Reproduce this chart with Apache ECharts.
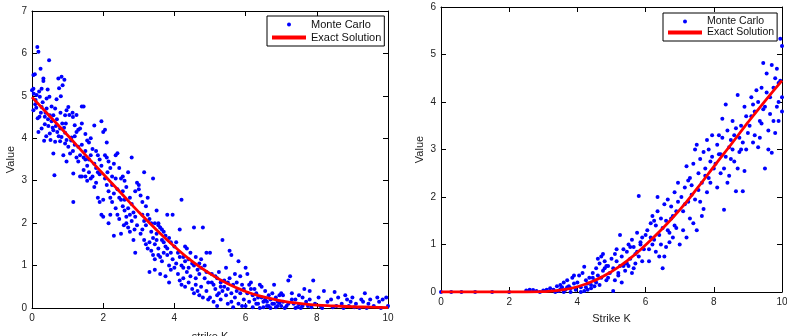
<!DOCTYPE html>
<html>
<head>
<meta charset="utf-8">
<script src="https://cdn.jsdelivr.net/npm/echarts@6/dist/echarts.min.js"></script>
<style>
  html, body { margin: 0; padding: 0; background: #fff; }
  #main { width: 787px; height: 336px; }
</style>
</head>
<body>
<div id="main"></div>
<script>
// strike grid for the exact solutions
const strikes = [0, 0.5, 1, 1.5, 2, 2.5, 3, 3.5, 4, 4.5, 5, 5.5, 6, 6.5, 7, 7.5, 8, 8.5, 9, 9.5, 10]
const exactPut = [4.97, 4.52, 4.07, 3.61, 3.16, 2.71, 2.26, 1.84, 1.45, 1.1, 0.81, 0.57, 0.39, 0.26, 0.17, 0.11, 0.07, 0.05, 0.03, 0.02, 0.01]
const exactCall = [0, 0, 0, 0, 0, 0, 0.01, 0.04, 0.11, 0.24, 0.43, 0.68, 0.99, 1.34, 1.73, 2.17, 2.64, 3.1, 3.57, 4.02, 4.45]

// monte carlo samples, left panel (strike K, value)
const mcPut = [
  [0.15,6.15],[0.18,6.04],[0.24,5.64],[0.48,5.84],[0.08,5.51],[0.04,5.49],[0.32,5.41],[0.32,5.35],[0.74,5.41],[0.83,5.45],
  [0.91,5.38],[0.86,5.25],[0.76,5.18],[0.44,5.15],[0.27,5.17],[0.04,5.17],[0.0,5.13],[0.13,5.02],[0.22,4.98],[0.41,4.94],
  [0.49,4.98],[0.81,4.99],[0.69,4.92],[0.04,4.66],[0.09,4.8],[0.27,4.74],[0.41,4.7],[0.21,4.51],[0.16,4.47],[0.36,4.51],
  [0.5,4.54],[0.65,4.7],[0.6,4.54],[0.93,4.54],[0.97,4.66],[0.18,4.15],[0.27,4.23],[0.36,4.33],[0.46,4.29],[0.5,4.11],
  [0.6,4.19],[0.67,4.29],[0.71,4.15],[0.79,4.23],[0.83,4.03],[0.93,4.13],[0.97,3.96],[0.65,3.92],[0.79,3.93],[0.34,3.94],
  [0.52,3.96],[0.6,3.64],[0.63,3.13],[0.88,3.6],[0.93,3.88],[0.1,4.9],[0.05,5.05],[0.2,5.1],[0.3,4.85],[0.38,4.6],
  [0.55,4.4],[0.7,4.45],[0.85,4.35],[0.58,4.25],[0.75,4.05],[0.9,4.25],[0.12,4.72],[0.25,4.6],[0.45,4.45],[0.55,4.75],
  [0.8,4.6],[0.95,4.35],[0.4,4.05],
  [1.02,3.8],[1.07,3.64],[0.97,3.45],[1.16,3.17],[1.16,2.5],[1.11,4.02],[1.25,4.15],[1.2,4.31],[1.35,4.23],[1.02,4.74],
  [1.14,4.6],[1.05,4.55],[1.15,4.5],[1.25,4.55],[1.4,4.75],[1.45,4.75],[1.3,4.2],[1.4,4.35],[1.5,4.1],[1.55,3.95],
  [1.6,3.9],[1.2,3.85],[1.3,3.8],[1.35,3.6],[1.45,3.55],[1.5,3.7],[1.6,3.5],[1.7,3.75],[1.75,4.3],[1.65,4.0],
  [1.8,3.7],[1.85,3.6],[1.9,3.5],[1.95,4.4],[2.0,4.15],[2.05,4.2],[2.1,3.9],[1.75,3.4],[1.8,3.3],[1.85,3.2],
  [1.9,3.15],[1.7,3.1],[1.65,3.05],[1.55,3.0],[1.5,3.1],[1.4,3.1],[1.35,3.1],[1.75,2.85],[1.8,2.95],[1.85,2.6],
  [1.9,2.5],[1.95,2.2],[2.0,2.55],[1.1,3.95],[1.25,3.55],[1.4,3.85],[1.55,3.35],[1.6,3.2],[1.3,3.45],[1.15,3.7],
  [1.45,3.25],[1.65,3.6],[1.95,3.35],[1.2,4.05],[1.5,3.5],
  [2.05,3.6],[2.1,3.55],[2.15,3.45],[2.2,3.3],[2.25,3.1],[2.3,3.4],[2.35,3.6],[2.4,3.65],[2.45,3.3],[2.5,3.05],
  [2.55,3.1],[2.6,3.0],[2.7,3.2],[2.8,3.55],[2.1,2.9],[2.15,2.75],[2.2,2.6],[2.25,2.5],[2.3,2.7],[2.35,2.35],
  [2.4,2.2],[2.45,2.1],[2.5,2.55],[2.55,2.4],[2.6,2.3],[2.65,2.0],[2.7,1.9],[2.75,1.8],[2.8,2.05],[2.85,2.25],
  [2.9,2.15],[2.95,1.95],[2.3,1.7],[2.5,1.75],[2.9,2.75],[2.95,2.95],[3.0,2.8],[2.75,2.6],[2.65,2.85],[2.2,2.2],
  [2.15,2.0],[2.0,2.15],[2.9,1.3],[2.85,1.6],[2.05,3.05],[2.25,2.9],[2.4,2.8],[2.55,2.75],[2.6,2.55],[2.7,2.35],
  [2.8,2.45],[2.35,3.05],[2.45,2.6],[2.65,2.15],[2.75,2.2],[2.12,3.2],[2.58,1.95],[2.88,1.85],
  [3.0,2.9],[3.05,2.65],[3.1,2.5],[3.15,3.2],[3.2,2.4],[3.25,2.2],[3.3,2.1],[3.35,2.0],[3.4,3.05],[3.45,2.0],
  [3.5,2.3],[3.55,1.95],[3.6,1.9],[3.65,1.85],[3.7,1.8],[3.75,1.7],[3.8,2.2],[3.85,1.65],[3.9,1.55],[3.95,2.2],
  [3.1,1.85],[3.15,1.6],[3.2,1.5],[3.25,1.4],[3.3,1.55],[3.35,1.35],[3.4,1.25],[3.45,1.5],[3.5,1.6],[3.55,1.4],
  [3.6,1.2],[3.65,1.1],[3.7,1.3],[3.75,1.45],[3.8,1.25],[3.85,1.0],[3.9,0.9],[3.95,1.15],[3.3,0.85],[3.45,0.9],
  [3.6,0.8],[3.75,0.75],[3.85,0.6],[3.05,1.75],[3.5,1.75],[3.65,1.6],[3.1,2.2],[3.2,1.95],[3.35,1.8],[3.4,1.65],
  [3.55,1.25],[3.7,1.55],[3.8,1.4],[3.9,1.3],[3.25,2.6],[3.55,2.0],[3.15,2.05],[3.45,1.15],
  [4.05,1.55],[4.1,1.3],[4.15,1.85],[4.2,2.55],[4.25,1.2],[4.3,1.1],[4.35,1.4],[4.4,0.95],[4.45,1.3],[4.5,1.05],
  [4.55,1.9],[4.6,1.2],[4.65,0.9],[4.7,0.8],[4.75,1.15],[4.8,1.9],[4.85,1.0],[4.9,1.3],[4.95,0.6],[4.0,0.95],
  [4.1,0.8],[4.15,0.65],[4.2,0.55],[4.25,0.7],[4.3,0.5],[4.4,0.6],[4.5,0.45],[4.55,0.35],[4.6,0.55],[4.7,0.3],
  [4.75,0.5],[4.8,0.25],[4.9,0.4],[4.95,0.2],[4.05,1.05],[4.35,0.85],[4.65,0.4],[4.85,0.7],[4.45,0.75],[4.2,1.0],
  [4.0,1.45],[4.15,1.2],[4.3,1.45],[4.55,1.0],[4.6,0.7],[4.75,0.95],[4.9,0.85],[4.25,0.95],[4.7,1.05],[4.4,1.15],
  [5.0,1.3],[5.05,0.8],[5.1,0.55],[5.15,0.45],[5.2,0.7],[5.25,0.35],[5.3,0.6],[5.35,1.6],[5.4,0.5],[5.45,0.3],
  [5.5,0.45],[5.55,1.35],[5.6,1.25],[5.65,0.55],[5.7,0.8],[5.75,0.4],[5.8,1.1],[5.85,0.35],[5.9,0.55],[5.95,0.2],
  [5.0,0.25],[5.1,0.15],[5.2,0.05],[5.3,0.2],[5.5,0.1],[5.6,0.15],[5.65,0.02],[5.7,0.25],[5.8,0.1],[5.9,0.05],
  [5.25,0.85],[5.45,0.95],[5.85,0.75],[6.0,0.95],[5.4,0.65],[5.55,0.7],[5.05,0.6],[5.15,0.75],[5.35,0.4],[5.6,0.35],
  [5.75,0.6],[5.95,0.45],[5.2,0.3],[5.5,0.6],[5.3,0.5],
  [6.05,0.8],[6.1,0.55],[6.15,0.45],[6.2,0.3],[6.25,0.2],[6.3,0.35],[6.35,0.1],[6.4,0.55],[6.45,0.25],[6.5,0.15],
  [6.55,0.4],[6.6,0.05],[6.65,0.3],[6.7,0.2],[6.75,0.1],[6.8,0.55],[6.85,0.25],[6.9,0.05],[6.95,0.3],[6.0,0.05],
  [6.1,0.15],[6.2,0.02],[6.3,0.1],[6.4,0.0],[6.5,0.02],[6.6,0.15],[6.7,0.0],[6.8,0.1],[6.9,0.15],[7.0,0.05],
  [6.05,0.35],[6.15,0.6],[6.25,0.45],[6.45,0.5],[6.55,0.2],[6.65,0.05],[6.75,0.35],[6.35,0.25],[6.85,0.02],[6.95,0.12],
  [7.05,0.3],[7.15,0.05],[7.2,0.65],[7.25,0.75],[7.3,0.2],[7.35,0.1],[7.4,0.0],[7.5,0.3],[7.6,0.05],[7.65,0.45],
  [7.7,0.15],[7.8,0.4],[7.85,0.02],[7.9,0.65],[7.95,0.1],[7.1,0.0],[7.45,0.02],[7.55,0.0],[7.75,0.05],[7.0,0.35],
  [7.3,0.35],[7.6,0.25],[7.2,0.1],[7.5,0.08],[7.8,0.2],[7.05,0.15],[7.4,0.2],
  [8.05,0.25],[8.1,0.05],[8.2,0.4],[8.3,0.15],[8.4,0.2],[8.5,0.38],[8.55,0.05],[8.6,0.25],[8.7,0.1],[8.8,0.3],
  [8.85,0.2],[8.9,0.05],[9.0,0.25],[9.1,0.1],[9.2,0.0],[9.3,0.15],[9.35,0.35],[9.45,0.1],[9.5,0.2],[9.6,0.05],
  [9.7,0.25],[9.75,0.15],[9.85,0.2],[9.95,0.25],[10.0,0.05],[8.15,0.0],[8.45,0.02],[8.75,0.0],[9.05,0.02],[9.4,0.0],
  [9.8,0.0],[8.95,0.15],[9.25,0.2]
]

// monte carlo samples, right panel (strike K, value)
const mcCall = [
  [0.0,0.0],[0.3,0.0],[0.6,0.0],[1.0,0.0],[1.5,0.0],[2.0,0.0],[2.5,0.03],[2.6,0.05],[2.7,0.04],[2.8,0.02],
  [2.9,0.0],[3.0,0.03],
  [3.1,0.05],[3.2,0.08],[3.3,0.05],[3.4,0.12],[3.45,0.02],[3.5,0.15],[3.55,0.1],[3.6,0.2],[3.65,0.05],[3.7,0.25],
  [3.75,0.12],[3.8,0.08],[3.85,0.3],[3.9,0.18],[3.95,0.05],[3.35,0.0],[3.6,0.0],[3.8,0.0],[3.5,0.06],[3.7,0.1],
  [3.9,0.35],
  [4.0,0.2],[4.05,0.35],[4.1,0.1],[4.15,0.4],[4.2,0.53],[4.25,0.25],[4.3,0.05],[4.35,0.3],[4.4,0.15],[4.45,0.4],
  [4.5,0.25],[4.55,0.5],[4.6,0.35],[4.65,0.6],[4.7,0.3],[4.75,0.45],[4.8,0.65],[4.85,0.25],[4.9,0.55],[4.95,0.4],
  [4.1,0.0],[4.3,0.18],[4.5,0.12],[4.6,0.7],[4.7,0.75],[4.8,0.5],[4.9,0.3],[5.0,0.7],[4.2,0.02],[4.4,0.08],
  [4.75,0.8],[4.55,0.2],[4.25,0.1],[4.65,0.15],[4.85,0.55],[4.45,0.3],
  [5.05,0.5],[5.1,0.8],[5.15,0.65],[5.2,0.4],[5.25,1.2],[5.3,0.75],[5.35,0.9],[5.4,0.6],[5.45,0.85],[5.5,1.0],
  [5.55,0.7],[5.6,1.1],[5.65,0.95],[5.7,0.8],[5.75,1.25],[5.8,2.02],[5.85,1.0],[5.9,1.15],[5.95,0.9],[5.1,0.25],
  [5.2,0.35],[5.3,0.2],[5.4,0.45],[5.5,0.55],[5.6,0.4],[5.7,0.6],[5.8,0.75],[5.9,0.65],[6.0,1.2],[5.05,0.02],
  [5.35,0.55],[5.65,0.5],[5.15,0.9],[5.45,0.6],[5.55,0.95],[5.75,0.85],[5.25,0.55],[5.85,1.05],
  [6.05,1.3],[6.1,0.9],[6.15,1.45],[6.2,1.6],[6.25,1.1],[6.3,1.4],[6.35,1.7],[6.4,1.2],[6.45,1.55],[6.5,1.35],
  [6.55,1.85],[6.6,1.5],[6.65,1.95],[6.7,1.25],[6.75,1.8],[6.8,1.6],[6.85,2.1],[6.9,1.7],[6.95,2.3],[6.1,0.65],
  [6.2,1.0],[6.3,0.85],[6.4,0.75],[6.5,0.5],[6.6,0.95],[6.7,1.05],[6.8,1.15],[6.9,1.35],[7.0,1.0],[6.35,2.0],
  [6.55,0.75],[6.85,1.4],[6.15,1.15],[6.45,1.0],[6.65,1.3],[6.25,1.5],[6.75,1.55],[6.95,1.9],
  [7.05,2.0],[7.1,1.7],[7.15,2.2],[7.2,2.65],[7.25,1.9],[7.3,2.4],[7.35,2.25],[7.4,2.7],[7.45,1.95],[7.5,3.1],
  [7.55,2.5],[7.6,2.8],[7.65,2.3],[7.7,2.95],[7.75,2.6],[7.8,3.2],[7.85,2.4],[7.9,2.75],[7.95,3.3],[7.1,1.3],
  [7.2,1.15],[7.3,1.55],[7.4,1.45],[7.5,1.3],[7.6,1.9],[7.7,1.75],[7.8,2.1],[7.9,2.3],[8.0,2.6],[7.45,3.0],
  [7.65,1.6],[7.85,3.0],[7.15,1.85],[7.35,2.05],[7.55,2.15],[7.75,2.45],[7.25,2.35],[7.95,2.85],
  [8.05,2.7],[8.1,3.1],[8.15,2.9],[8.2,2.5],[8.25,3.25],[8.3,1.73],[8.35,3.95],[8.4,3.4],[8.45,3.05],[8.5,2.8],
  [8.55,3.6],[8.6,3.3],[8.65,2.12],[8.7,4.15],[8.75,3.25],[8.8,3.5],[8.85,2.12],[8.9,3.9],[8.95,3.7],[8.1,2.2],
  [8.2,2.9],[8.3,2.6],[8.4,2.3],[8.5,3.2],[8.6,2.75],[8.7,2.6],[8.8,3.0],[8.9,2.55],[9.0,3.35],[8.25,3.65],
  [8.45,2.45],[8.75,2.95],[8.15,3.3],[8.35,2.85],[8.55,3.0],[8.65,3.45],[8.85,3.15],[8.95,3.0],
  [9.05,3.5],[9.1,4.1],[9.15,3.15],[9.2,3.8],[9.25,4.25],[9.3,3.05],[9.35,3.6],[9.4,4.3],[9.45,4.82],[9.5,2.6],
  [9.55,4.6],[9.6,3.4],[9.65,4.1],[9.7,4.78],[9.75,3.6],[9.8,4.5],[9.85,3.9],[9.9,4.4],[9.95,5.33],[10.0,5.18],
  [9.1,3.7],[9.2,3.3],[9.3,4.0],[9.4,3.55],[9.5,3.9],[9.6,3.0],[9.7,2.93],[9.8,3.35],[9.9,3.6],[10.0,4.1],
  [9.35,3.25],[9.65,3.75],[9.85,4.7],[10.0,3.8],[9.95,4.45],[9.15,3.95],[9.45,3.85],[9.55,4.2],[9.75,4.3],[9.9,4.0]
]

const chart = echarts.init(document.getElementById('main'))

const font = 'Liberation Sans, Arial, sans-serif'
const black = '#000'

const baseAxis = {
  min: 0,
  axisLine: { show: true, onZero: false, lineStyle: { color: black, width: 1 } },
  axisTick: { show: true, inside: true, length: 5, lineStyle: { color: black } },
  axisLabel: { color: '#222', fontSize: 10, fontFamily: font },
  splitLine: { show: false },
  nameTextStyle: { color: '#222', fontSize: 11, fontFamily: font }
}

const xAxis = (grid, name, gap) => ([
  { ...baseAxis, type: 'value', gridIndex: grid, max: 10, interval: 2, position: 'bottom',
    name, nameLocation: 'middle', nameGap: gap, axisLabel: { ...baseAxis.axisLabel, margin: 5 } },
  { ...baseAxis, type: 'value', gridIndex: grid, max: 10, interval: 2, position: 'top',
    axisLabel: { show: false } }
])

const yAxis = (grid, max) => ([
  { ...baseAxis, type: 'value', gridIndex: grid, max, interval: 1, position: 'left',
    name: 'Value', nameLocation: 'middle', nameGap: 16, axisLabel: { ...baseAxis.axisLabel, margin: 5 } },
  { ...baseAxis, type: 'value', gridIndex: grid, max, interval: 1, position: 'right',
    axisLabel: { show: false } }
])

const legend = (left, top, fontSize, gap) => ({
  left, top,
  orient: 'vertical',
  backgroundColor: '#fff',
  borderColor: black,
  borderWidth: 1,
  borderRadius: 0,
  padding: [3, 3, 3, 5],
  itemGap: gap,
  itemWidth: 34,
  itemHeight: 4,
  textStyle: { color: '#111', fontSize, fontFamily: font },
  data: [
    { name: 'Monte Carlo', icon: 'circle' },
    { name: 'Exact Solution', icon: 'rect' }
  ]
})

const scatter = (data, xi, yi) => ({
  name: 'Monte Carlo',
  type: 'scatter',
  xAxisIndex: xi,
  yAxisIndex: yi,
  data,
  symbolSize: 4,
  itemStyle: { color: '#0000ff', opacity: 1 },
  clip: false,
  silent: true
})

const exact = (vals, xi, yi) => ({
  name: 'Exact Solution',
  type: 'line',
  xAxisIndex: xi,
  yAxisIndex: yi,
  data: strikes.map((k, i) => [k, vals[i]]),
  symbol: 'none',
  smooth: true,
  lineStyle: { color: '#ff0000', width: 2.8 },
  itemStyle: { color: '#ff0000' },
  z: 5,
  silent: true
})

chart.setOption({
  animation: false,
  backgroundColor: '#fff',
  grid: [
    { left: 32, top: 11, width: 356, height: 297, outerBoundsMode: 'none' },
    { left: 441, top: 7, width: 341, height: 285, outerBoundsMode: 'none' }
  ],
  xAxis: [...xAxis(0, 'strike K', 23), ...xAxis(1, 'Strike K', 21)],
  yAxis: [...yAxis(0, 7), ...yAxis(1, 6)],
  legend: [legend(267, 16, 11, 2), legend(663, 13, 10.5, 0)],
  series: [
    scatter(mcPut, 0, 0),
    exact(exactPut, 0, 0),
    scatter(mcCall, 2, 2),
    exact(exactCall, 2, 2)
  ]
})
</script>
</body>
</html>
